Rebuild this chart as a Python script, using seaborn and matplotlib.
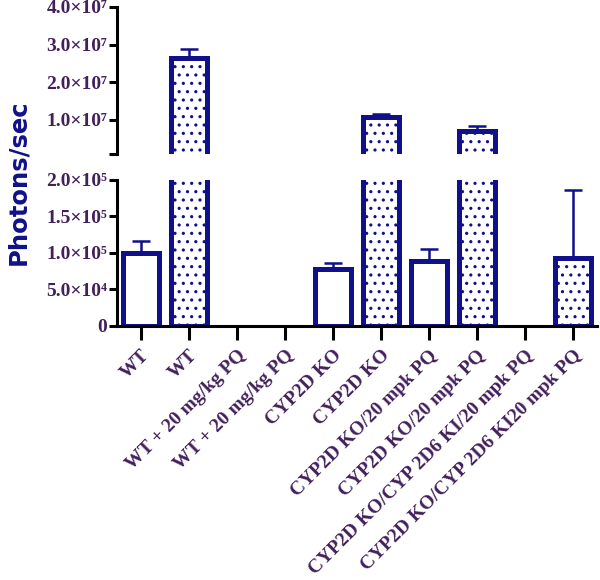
import pandas as pd
import numpy as np
import matplotlib
matplotlib.use('Agg')
import matplotlib.pyplot as plt
import seaborn as sns

# data
groups = ['WT', 'WT', 'WT + 20 mg/kg PQ', 'WT + 20 mg/kg PQ', 'CYP2D KO', 'CYP2D KO',
          'CYP2D KO/20 mpk PQ', 'CYP2D KO/20 mpk PQ',
          'CYP2D KO/CYP 2D6 KI/20 mpk PQ', 'CYP2D KO/CYP 2D6 KI20 mpk PQ']
bar_pos = [0, 1, 4, 5, 6, 7, 9]
photons = [1.0e5, 2.63e7, 7.8e4, 1.06e7, 8.9e4, 7.1e6, 9.3e4]
err_up = [1.6e4, 2.4e6, 8.0e3, 1.0e6, 1.6e4, 1.3e6, 9.3e4]
pattern = ['open', 'dotted', 'open', 'dotted', 'open', 'dotted', 'dotted']

top_ticks = [0.08e7, 1e7, 2e7, 3e7, 4e7]
top_labels = ['', '1.0×10⁷', '2.0×10⁷', '3.0×10⁷', '4.0×10⁷']
bot_ticks = [0, 5e4, 1e5, 1.5e5, 2e5]
bot_labels = ['0', '5.0×10⁴', '1.0×10⁵', '1.5×10⁵', '2.0×10⁵']

df = pd.DataFrame({'pos': bar_pos, 'photons': photons, 'err': err_up, 'pattern': pattern})

navy = '#10108a'
lab_col = '#42205c'
serif = ['Liberation Serif', 'DejaVu Serif']

sns.set_style('ticks')
plt.rcParams['hatch.linewidth'] = 1.1
plt.rcParams['hatch.color'] = navy

fig = plt.figure(figsize=(6, 5.8), dpi=100)
ax_top = fig.add_axes([0.195, 0.734, 0.80, 0.254])
ax_bot = fig.add_axes([0.195, 0.438, 0.80, 0.252])

order = list(range(len(groups)))
# top panel starts a hair above zero so the cut bars have no bottom edge
panels = [(ax_top, df[df.photons > 1e6], (0.08e7, 4e7), top_ticks, top_labels),
          (ax_bot, df, (0, 2e5), bot_ticks, bot_labels)]

for ax, d, ylim, ticks, labels in panels:
    sns.barplot(data=d, x='pos', y='photons', hue='pattern', hue_order=['open', 'dotted'],
                palette={'open': 'white', 'dotted': 'white'}, order=order, dodge=False,
                width=0.73, errorbar=None, legend=False, ax=ax,
                edgecolor=navy, linewidth=3.6)
    for bar in ax.containers[-1]:
        bar.set_hatch('..')
    e = d[d.photons < ylim[1]]
    ax.errorbar(e['pos'].values, e['photons'].values,
                yerr=[np.zeros(len(e)), e['err'].values], fmt='none',
                ecolor=navy, elinewidth=1.8, capsize=6.5, capthick=1.8, zorder=1)
    ax.set_ylim(*ylim)
    ax.set_xlim(-0.5, 9.5)
    ax.set_yticks(ticks)
    ax.set_yticklabels(labels, family=serif, fontweight='bold', fontsize=14, color=lab_col)
    ax.set_xlabel('')
    ax.set_ylabel('')
    for s in ['top', 'right']:
        ax.spines[s].set_visible(False)
    for s in ['left', 'bottom']:
        ax.spines[s].set_linewidth(2.2)
        ax.spines[s].set_color('black')
    ax.tick_params(axis='y', width=2.2, length=6, color='black', pad=1)

ax_top.spines['bottom'].set_visible(False)
ax_top.tick_params(axis='x', bottom=False, labelbottom=False)

ax_bot.set_xticks(order)
ax_bot.set_xticklabels(groups, rotation=45, ha='right', rotation_mode='anchor',
                       family=serif, fontweight='bold', fontsize=14, color=lab_col)
ax_bot.tick_params(axis='x', width=2.2, length=10, color='black', pad=5)

fig.text(0.03, 0.685, 'Photons/sec', rotation=90, ha='center', va='center',
         fontsize=17.5, fontweight='bold', color=navy, family=['DejaVu Sans'])

fig.savefig('out.png', dpi=100)
